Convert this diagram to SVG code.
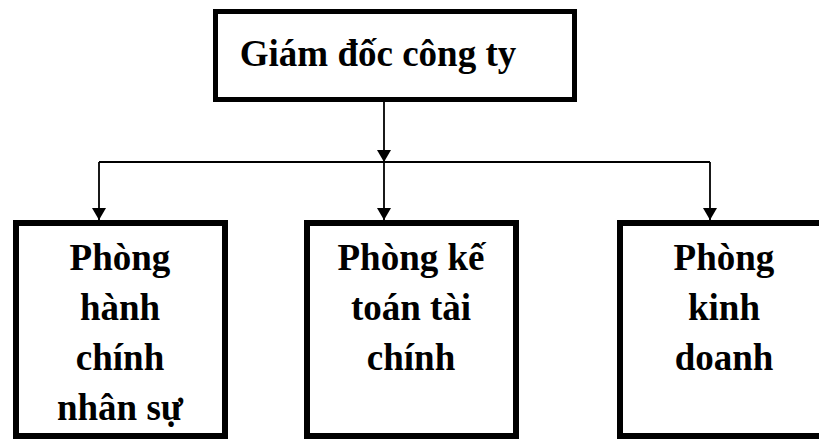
<svg xmlns="http://www.w3.org/2000/svg" width="819" height="439" viewBox="0 0 819 439">
<style>
.box{fill:#fff;stroke:#000;stroke-width:6}
.t{font-family:"Liberation Serif","Times New Roman",serif;font-weight:bold;font-size:37px;fill:#000;text-anchor:middle}
.c{stroke:#000;stroke-width:1.8;fill:none}
</style>
<defs>
<marker id="ah" viewBox="0 0 12 14" refX="12" refY="7" markerWidth="12" markerHeight="14" markerUnits="userSpaceOnUse" orient="auto">
<path d="M0,0 L12,7 L0,14 z" fill="#000"/>
</marker>
</defs>
<rect width="819" height="439" fill="#fff"/>
<g id="connectors">
<line class="c" x1="384" y1="102" x2="384" y2="162" marker-end="url(#ah)"/>
<line class="c" x1="99" y1="162" x2="710" y2="162"/>
<line class="c" x1="99" y1="162" x2="99" y2="220" marker-end="url(#ah)"/>
<line class="c" x1="384" y1="162" x2="384" y2="220" marker-end="url(#ah)"/>
<line class="c" x1="710" y1="162" x2="710" y2="220" marker-end="url(#ah)"/>
</g>
<g id="giam-doc">
<rect class="box" x="215.5" y="11.5" width="359" height="88" style="stroke-width:5"/>
<text class="t" x="378" y="66">Giám đốc công ty</text>
</g>
<g id="phong-hcns">
<rect class="box" x="16" y="223" width="209" height="213"/>
<text class="t" x="120" y="270">Phòng</text>
<text class="t" x="120" y="320">hành</text>
<text class="t" x="120" y="370">chính</text>
<text class="t" x="120" y="420">nhân sự</text>
</g>
<g id="phong-ketoan">
<rect class="box" x="307" y="223" width="209" height="213"/>
<text class="t" x="411" y="270">Phòng kế</text>
<text class="t" x="411" y="320">toán tài</text>
<text class="t" x="411" y="370">chính</text>
</g>
<g id="phong-kinhdoanh">
<rect class="box" x="620" y="223" width="220" height="213"/>
<text class="t" x="724" y="270">Phòng</text>
<text class="t" x="724" y="320">kinh</text>
<text class="t" x="724" y="370">doanh</text>
</g>
</svg>
